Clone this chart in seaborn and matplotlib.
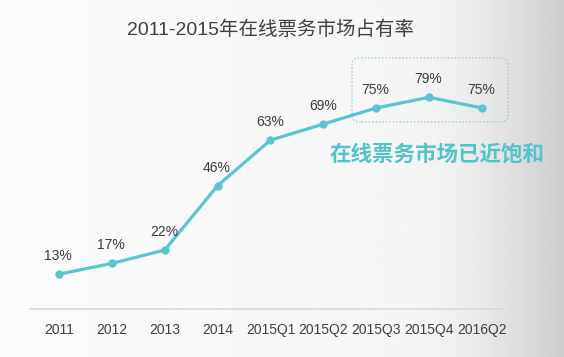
import numpy as np
import pandas as pd
import matplotlib
matplotlib.use("Agg")
import matplotlib.pyplot as plt
import seaborn as sns
from matplotlib.patches import FancyBboxPatch

categories = ["2011", "2012", "2013", "2014", "2015Q1", "2015Q2", "2015Q3", "2015Q4", "2016Q2"]
share = [13, 17, 22, 46, 63, 69, 75, 79, 75]
title = "2011-2015年在线票务市场占有率"
note = "在线票务市场已近饱和"

sns.set_theme(style="white")
plt.rcParams['font.family'] = ['Liberation Sans', 'Noto Sans CJK SC', 'DejaVu Sans']

fig = plt.figure(figsize=(5.64, 3.57), dpi=100)

# background gradient
bg = fig.add_axes([0, 0, 1, 1], zorder=-10)
xs = np.linspace(0, 1, 300)
vals = np.where(xs < 0.72, 0.985 - 0.03 * xs, 0.985 - 0.03 * 0.72 - (xs - 0.72) ** 1.5 * 1.05)
grad = np.tile(vals, (10, 1))
bg.imshow(grad, cmap="gray", vmin=0, vmax=1, aspect="auto", extent=[0, 1, 0, 1])
bg.axis("off")

ax = fig.add_axes([0.0532, 0.1345, 0.851, 0.7507])
ax.patch.set_alpha(0)
df = pd.DataFrame({"idx": np.arange(len(categories)), "share": share})
teal = "#5ac5ce"
sns.lineplot(data=df, x="idx", y="share", ax=ax, color=teal, linewidth=2.3,
             marker="o", markersize=6, markeredgewidth=0)
ax.set_xlim(-0.548, 8.53)
ax.set_ylim(0, 100)
for i, v in enumerate(share):
    ax.annotate(f"{v}%", (i, v), xytext=(-0.5, 13), textcoords="offset points",
                ha="center", va="center", fontsize=10, color="#3a3a3a")

ax.set_xticks(range(len(categories)))
ax.set_xticklabels(categories, fontsize=10, color="#404040")
ax.tick_params(axis="x", length=0, pad=10)
ax.set_yticks([])
ax.set_xlabel("")
ax.set_ylabel("")
for s in ["top", "right", "left"]:
    ax.spines[s].set_visible(False)
ax.spines["bottom"].set_color("#d8d8d8")
ax.spines["bottom"].set_linewidth(1.2)
ax.spines["bottom"].set_bounds(-0.548, 8.4)

box = FancyBboxPatch((0.671, 0.698), 0.325, 0.239, transform=ax.transAxes,
                     boxstyle="round,pad=0,rounding_size=0.02",
                     fill=False, edgecolor="#8fcfd3", linestyle=(0, (1, 1.5)), linewidth=1.0,
                     clip_on=False)
ax.add_patch(box)
ax.text(0.848, 0.575, note, transform=ax.transAxes, ha="center", va="center",
        fontsize=15.5, fontweight="bold", color="#52c3cc", family=['Noto Sans CJK SC', 'DejaVu Sans'])

fig.text(0.479, 0.916, title, ha="center", va="center", fontsize=14, color="#404040")

fig.savefig("out.png", dpi=100)
